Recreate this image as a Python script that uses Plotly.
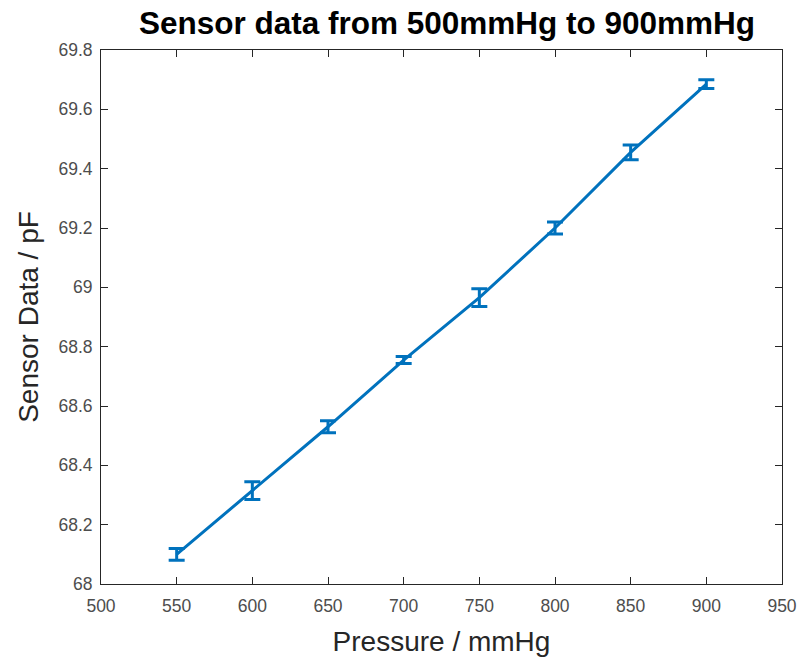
import plotly.graph_objects as go

pressure = [550, 600, 650, 700, 750, 800, 850, 900]
sensor = [68.10, 68.315, 68.53, 68.755, 68.965, 69.20, 69.455, 69.685]
err = [0.02, 0.03, 0.02, 0.012, 0.03, 0.02, 0.025, 0.015]

x_ticks = [500, 550, 600, 650, 700, 750, 800, 850, 900, 950]
y_ticks = [68, 68.2, 68.4, 68.6, 68.8, 69, 69.2, 69.4, 69.6, 69.8]
y_labels = ["68", "68.2", "68.4", "68.6", "68.8", "69", "69.2", "69.4", "69.6", "69.8"]

color = "#0072BD"

fig = go.Figure()
fig.add_trace(go.Scatter(
    x=pressure, y=sensor, mode="lines",
    line=dict(color=color, width=3),
    error_y=dict(type="data", array=err, visible=True, color=color,
                 thickness=3, width=8),
    showlegend=False,
))

axis_common = dict(
    showgrid=False, zeroline=False, showline=True, linecolor="#262626",
    linewidth=1, mirror="allticks", ticks="inside", ticklen=7,
    tickcolor="#262626", tickfont=dict(family="Liberation Sans", size=17.5, color="#4d4d4d"),
)

fig.update_layout(
    width=809, height=664,
    margin=dict(l=101, r=16, t=50, b=79),
    paper_bgcolor="white", plot_bgcolor="white",
    title=dict(text="<b>Sensor data from 500mmHg to 900mmHg</b>",
               font=dict(family="Liberation Sans", size=31.5, color="black"),
               x=(101 + 793) / 2 / 809, xanchor="center", y=1 - 23 / 664, yanchor="middle"),
    xaxis=dict(range=[500, 950], tickvals=x_ticks, ticktext=[str(v) for v in x_ticks],
               ticklabelstandoff=6,
               title=dict(text="Pressure / mmHg", font=dict(family="Liberation Sans", size=28, color="#262626"),
                          standoff=16),
               **axis_common),
    yaxis=dict(range=[68, 69.8], tickvals=y_ticks, ticktext=y_labels,
               ticklabelstandoff=4,
               title=dict(text="Sensor Data / pF", font=dict(family="Liberation Sans", size=28, color="#262626"),
                          standoff=11),
               **axis_common),
)

fig.write_html("out.html")
